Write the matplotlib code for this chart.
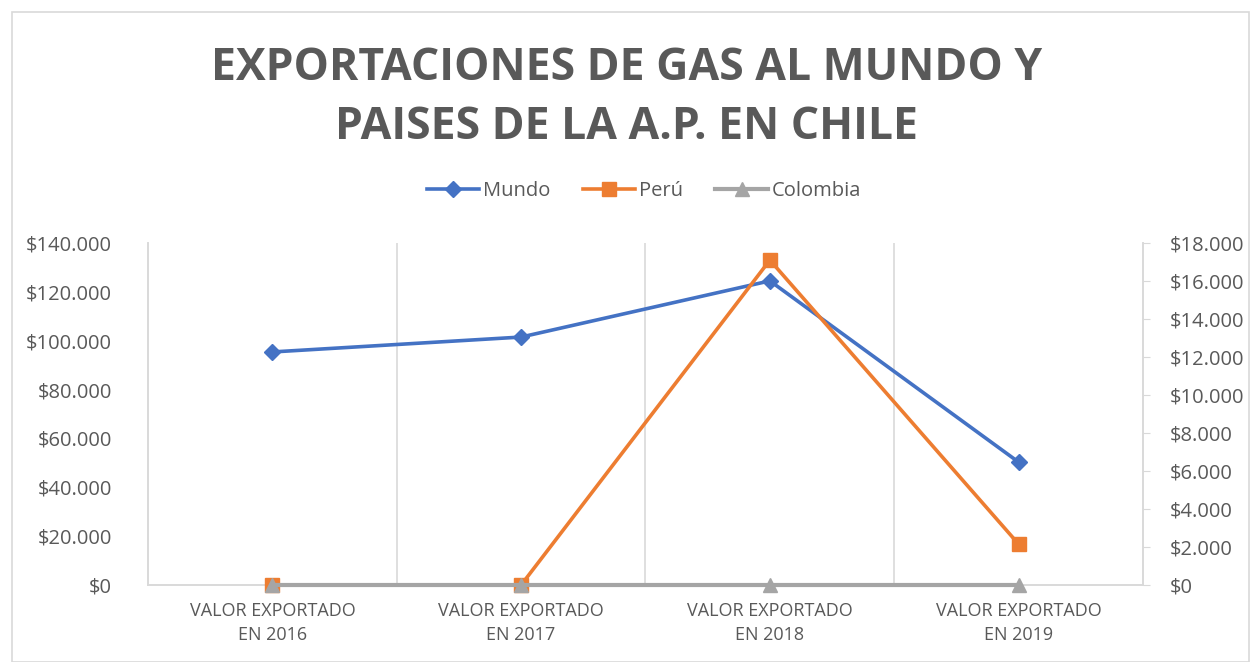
import matplotlib.pyplot as plt
from matplotlib.ticker import FuncFormatter, MultipleLocator
from matplotlib.patches import Rectangle

# datos
categorias = ["VALOR EXPORTADO\nEN 2016", "VALOR EXPORTADO\nEN 2017",
              "VALOR EXPORTADO\nEN 2018", "VALOR EXPORTADO\nEN 2019"]
mundo = [95400, 101500, 124500, 50300]
peru = [0, 0, 17100, 2150]
colombia = [0, 0, 0, 0]

gris_texto = "#595959"
gris_linea = "#D9D9D9"

plt.rcParams['font.family'] = ['Open Sans', 'DejaVu Sans']

fig = plt.figure(figsize=(12.53, 6.62), dpi=100)
ax = fig.add_axes([148 / 1253, 1 - 585 / 662, (1143 - 148) / 1253, (585 - 243) / 662])
ax2 = ax.twinx()

x = list(range(len(categorias)))

def pesos(v, pos):
    return "$" + f"{int(v):,}".replace(",", ".")

ax.plot(x, mundo, color="#4472C4", lw=2.6, marker="D", ms=8, label="Mundo", zorder=3)
l2, = ax2.plot(x, peru, color="#ED7D31", lw=2.6, marker="s", ms=10, label="Perú", zorder=3,
               clip_on=False)
l3, = ax2.plot(x, colombia, color="#A5A5A5", lw=3, marker="^", ms=10, label="Colombia", zorder=4,
               clip_on=False)

ax.set_xlim(-0.5, 3.5)
ax.set_ylim(0, 140000)
ax2.set_ylim(0, 18000)
ax.yaxis.set_major_locator(MultipleLocator(20000))
ax2.yaxis.set_major_locator(MultipleLocator(2000))
ax.yaxis.set_major_formatter(FuncFormatter(pesos))
ax2.yaxis.set_major_formatter(FuncFormatter(pesos))

ax.set_xticks(x)
ax.set_xticklabels(categorias, fontsize=13, color=gris_texto, linespacing=1.45)
for i in [0.5, 1.5, 2.5]:
    ax.axvline(i, color=gris_linea, lw=1.2, zorder=0)

for a in (ax, ax2):
    for s in a.spines.values():
        s.set_color(gris_linea)
        s.set_linewidth(1.2)
        s.set_zorder(0)
    a.spines['top'].set_visible(False)
ax.tick_params(axis='y', length=0, labelsize=14.5, labelcolor=gris_texto, pad=26)
ax.tick_params(axis='x', length=0, pad=12)
ax2.tick_params(axis='y', length=5, color=gris_linea, labelsize=14.5, labelcolor=gris_texto, pad=14)

fig.text(0.5, 1 - 98 / 662, "EXPORTACIONES DE GAS AL MUNDO Y\nPAISES DE LA A.P. EN CHILE",
         ha="center", va="center", fontsize=32, fontweight="bold", color=gris_texto, linespacing=1.4)

h1, lb1 = ax.get_legend_handles_labels()
fig.legend(h1 + [l2, l3], lb1 + ["Perú", "Colombia"], loc="center", bbox_to_anchor=(0.514, 1 - 191 / 662),
           ncol=3, frameon=False, fontsize=14.5, labelcolor=gris_texto, handlelength=2.6,
           handletextpad=0.2, columnspacing=1.6)

fig.patches.append(Rectangle((12 / 1253, 0), 1237 / 1253, 1 - 12 / 662, transform=fig.transFigure,
                             fill=False, edgecolor=gris_linea, lw=1.2))

fig.savefig("out.png", dpi=100)
